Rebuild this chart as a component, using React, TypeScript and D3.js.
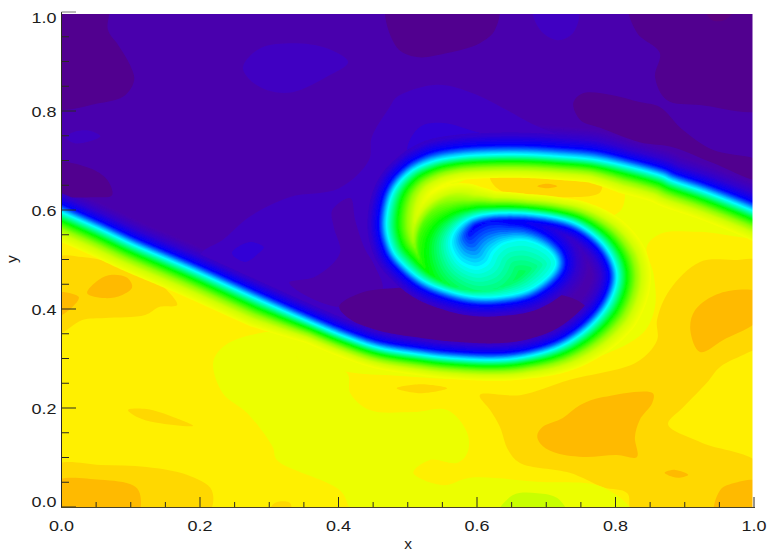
import React, { useMemo } from "react";
import * as d3 from "d3";

type P = [number, number];

// ---- axis values
const majorTicks = [0, 0.2, 0.4, 0.6, 0.8, 1.0];
const minorTicks = [0.05, 0.1, 0.15, 0.25, 0.3, 0.35, 0.45, 0.5, 0.55, 0.65, 0.7, 0.75, 0.85, 0.9, 0.95];

// ---- the shear interface (left edge -> spiral core -> right edge), in x,y
const interfaceLine: P[] = [
  [-0.031, 0.614], [0.001, 0.594], [0.056, 0.56], [0.103, 0.529], [0.157, 0.497], [0.2, 0.471], [0.287, 0.416],
  [0.363, 0.37], [0.412, 0.342], [0.46, 0.32], [0.518, 0.307], [0.561, 0.3], [0.623, 0.296], [0.672, 0.303],
  [0.72, 0.323], [0.759, 0.358], [0.788, 0.404], [0.802, 0.453], [0.799, 0.493], [0.782, 0.533], [0.753, 0.566],
  [0.72, 0.584], [0.672, 0.594], [0.623, 0.594], [0.59, 0.584], [0.568, 0.56], [0.561, 0.529], [0.573, 0.495],
  [0.597, 0.479], [0.616, 0.489], [0.626, 0.515], [0.643, 0.533], [0.672, 0.537], [0.701, 0.519], [0.713, 0.493],
  [0.701, 0.465], [0.672, 0.438], [0.633, 0.426], [0.594, 0.426], [0.557, 0.438], [0.522, 0.459], [0.493, 0.493],
  [0.477, 0.525], [0.47, 0.574], [0.479, 0.634], [0.503, 0.675], [0.536, 0.697], [0.575, 0.707], [0.623, 0.711],
  [0.672, 0.711], [0.72, 0.707], [0.768, 0.701], [0.817, 0.687], [0.864, 0.669], [0.883, 0.657], [0.932, 0.634],
  [0.994, 0.6], [1.03, 0.576],
];
// relative thickness of the transition layer at each interface point, on its yellow side
const spreadLower = [
  1, 1, 1, 1, 1, 1, 1, 0.75, 0.75, 0.75, 0.75, 0.75, 0.75, 0.8, 0.95, 1.1, 1.25, 1.25, 1.25, 1.1, 0.9, 0.75, 0.7, 0.8, 1.2, 2,
  3, 4, 5, 6.5, 6.5, 6.5, 6.5, 6, 5.5, 4.5, 3.2, 2, 1.3, 1, 1.2, 1.4, 1.4, 1.4, 1.3, 1.1, 0.95, 0.85, 0.85, 0.85, 0.85, 0.85,
  1, 1, 1, 1, 1, 1,
];
// ... and on its purple side
const spreadUpper = [
  1, 1, 1, 1, 1, 1, 1, 0.95, 0.95, 0.95, 0.95, 0.95, 0.95, 0.95, 1, 1.05, 1.05, 1.05, 1.05, 1.05, 1, 1, 1, 1, 1.2, 2,
  3, 4, 5, 5, 4, 2.5, 1.8, 1.5, 1.4, 1.3, 1.2, 1.1, 1.1, 1.1, 1.1, 1.1, 1.1, 1.1, 1.1, 1.1, 1.25, 1.25, 1.25, 1.25, 1.25, 1.25,
  1.1, 1.1, 1.1, 1.1, 1.1, 1.1,
];
// colour ramp of the layer against signed distance
const rampLevels = [-27, -20, -15, -11, -8, -3.5, 0, 2, 4.5, 7.5, 11, 15, 20, 25];
const rampColors = ["#f4ff00", "#d0ff00", "#90ff00", "#40ff00", "#00ff00", "#00ff90", "#00ffff", "#00c0ff", "#0060ff", "#0000ff", "#1800e8", "#3000d0", "#4000bc", "#4b00ac"];

// ---- lower fluid level regions
const yellowMain: P[] = [[0.604, 0.226], [0.662, 0.226], [0.734, 0.257], [0.831, 0.293], [0.86, 0.337], [0.86, 0.378], [0.878, 0.438], [0.922, 0.495], [0.97, 0.499], [1.009, 0.495], [1.009, 0.327], [0.99, 0.311], [0.951, 0.283], [0.932, 0.251], [0.898, 0.202], [0.876, 0.17], [0.879, 0.16], [0.926, 0.129], [1.009, 0.085], [1.009, -0.016], [0.825, -0.016], [0.817, 0.028], [0.782, 0.04], [0.734, 0.069], [0.662, 0.089], [0.645, 0.115], [0.633, 0.162], [0.619, 0.196]];
const yellowLeft: P[] = [[-0.005, 0.503], [0.03, 0.505], [0.069, 0.495], [0.121, 0.469], [0.155, 0.434], [0.167, 0.408], [0.141, 0.404], [0.121, 0.388], [0.063, 0.382], [0.03, 0.378], [-0.005, 0.352]];
const yellowCorner: P[] = [[-0.009, 0.083], [0.056, 0.085], [0.123, 0.081], [0.181, 0.065], [0.217, 0.034], [0.21, -0.016], [-0.009, -0.016]];
const yellowSliver: P[] = [[0.096, 0.196], [0.123, 0.198], [0.161, 0.182], [0.19, 0.164], [0.138, 0.17], [0.109, 0.182]];
const yellowSpot: P[] = [[0.484, 0.24], [0.518, 0.248], [0.557, 0.24], [0.518, 0.23]];
const yellowFoot: P[] = [[0.298, -0.016], [0.308, 0.008], [0.33, 0.008], [0.33, -0.016]];
const orangeCentre: P[] = [[0.687, 0.145], [0.695, 0.162], [0.724, 0.18], [0.749, 0.206], [0.782, 0.222], [0.854, 0.23], [0.853, 0.21], [0.835, 0.176], [0.828, 0.141], [0.831, 0.101], [0.802, 0.105], [0.753, 0.101], [0.71, 0.111], [0.691, 0.129]];
const orangeSpot: P[] = [[0.871, 0.069], [0.886, 0.075], [0.905, 0.065], [0.893, 0.059], [0.882, 0.061]];
const orangeCornerR: P[] = [[0.944, -0.016], [0.951, 0.034], [0.97, 0.048], [1.009, 0.051], [1.016, -0.016]];
const orangeRight: P[] = [[0.908, 0.358], [0.915, 0.398], [0.951, 0.432], [1.009, 0.432], [1.009, 0.382], [0.955, 0.337], [0.922, 0.313]];
const orangeLeft: P[] = [[0.037, 0.432], [0.054, 0.459], [0.073, 0.469], [0.095, 0.463], [0.102, 0.444], [0.087, 0.428], [0.063, 0.422]];
const orangeEdge: P[] = [[-0.009, 0.432], [0.025, 0.424], [0.011, 0.398], [-0.009, 0.384]];
const orangeCornerL: P[] = [[-0.009, 0.051], [0.056, 0.055], [0.103, 0.044], [0.113, 0.028], [0.109, -0.016], [-0.009, -0.016]];
const limeMain: P[] = [[0.219, 0.291], [0.233, 0.323], [0.272, 0.347], [0.373, 0.358], [0.34, 0.303], [0.412, 0.271], [0.417, 0.23], [0.445, 0.196], [0.508, 0.192], [0.557, 0.196], [0.586, 0.149], [0.586, 0.109], [0.571, 0.089], [0.532, 0.095], [0.508, 0.069], [0.551, 0.044], [0.59, 0.059], [0.687, 0.051], [0.782, 0.04], [0.825, -0.016], [0.427, -0.016], [0.402, 0.034], [0.311, 0.095], [0.305, 0.121], [0.268, 0.19], [0.233, 0.23]];
const limeWrap: P[] = [[0.34, 0.303], [0.412, 0.273], [0.484, 0.265], [0.59, 0.257], [0.658, 0.261], [0.734, 0.291], [0.778, 0.305], [0.84, 0.352], [0.857, 0.404], [0.855, 0.47], [0.845, 0.525], [0.865, 0.552], [0.92, 0.556], [1.02, 0.549], [1.02, 0.61], [0.778, 0.721], [0.489, 0.721], [0.388, 0.418]];
const limeGreen: P[] = [[0.63, -0.016], [0.652, 0.024], [0.687, 0.028], [0.716, 0.018], [0.73, -0.016]];
const tongueYellow: P[] = [[0.532, 0.614], [0.583, 0.661], [0.633, 0.677], [0.72, 0.681], [0.785, 0.668], [0.812, 0.64], [0.808, 0.6], [0.785, 0.585], [0.745, 0.592], [0.691, 0.61], [0.59, 0.62]];
const tongueAmber: P[] = [[0.619, 0.667], [0.662, 0.671], [0.778, 0.661], [0.778, 0.636], [0.72, 0.626], [0.633, 0.64]];
const tongueOrange: P[] = [[0.687, 0.648], [0.701, 0.653], [0.716, 0.648], [0.701, 0.644]];

// ---- upper fluid level regions
const haloWide: P[] = [[0.203, 0.515], [0.232, 0.539], [0.271, 0.586], [0.329, 0.626], [0.401, 0.644], [0.444, 0.701], [0.448, 0.747], [0.474, 0.808], [0.484, 0.828], [0.542, 0.853], [0.594, 0.836], [0.643, 0.802], [0.677, 0.776], [0.749, 0.735], [0.835, 0.691], [0.835, 0.671], [0.633, 0.499], [0.431, 0.347], [0.2, 0.495]];
const haloTop: P[] = [[0.499, 0.721], [0.518, 0.768], [0.551, 0.776], [0.604, 0.756], [0.677, 0.735], [0.749, 0.721], [0.778, 0.671], [0.518, 0.661]];
const haloSpot: P[] = [[0.246, 0.513], [0.271, 0.535], [0.292, 0.525], [0.285, 0.513], [0.265, 0.495]];
const baseInHalo: P[] = [[0.329, 0.453], [0.366, 0.465], [0.402, 0.513], [0.393, 0.566], [0.391, 0.6], [0.417, 0.624], [0.424, 0.58], [0.437, 0.525], [0.453, 0.485], [0.463, 0.438], [0.401, 0.404]];
const darkTopLeft: P[] = [[-0.02, 1.02], [0.067, 1.02], [0.067, 0.964], [0.082, 0.933], [0.099, 0.893], [0.105, 0.863], [0.092, 0.832], [0.056, 0.816], [-0.02, 0.81]];
const darkTopMid: P[] = [[0.471, 1.02], [0.484, 0.929], [0.513, 0.909], [0.557, 0.917], [0.604, 0.937], [0.626, 0.964], [0.629, 1.02]];
const darkTopRight: P[] = [[0.821, 1.02], [0.831, 0.958], [0.864, 0.917], [0.857, 0.869], [0.874, 0.822], [0.922, 0.812], [1.02, 0.808], [1.02, 1.02]];
const darkDiagonal: P[] = [[0.739, 0.816], [0.753, 0.836], [0.796, 0.832], [0.835, 0.818], [0.864, 0.808], [0.897, 0.762], [0.941, 0.721], [1.009, 0.697], [1.009, 0.661], [0.941, 0.695], [0.883, 0.727], [0.835, 0.737], [0.778, 0.766], [0.749, 0.782]];
const darkLeft: P[] = [[-0.02, 0.695], [0.04, 0.685], [0.066, 0.661], [0.073, 0.63], [0.048, 0.626], [-0.02, 0.636]];
const darkLower: P[] = [[0.401, 0.404], [0.431, 0.432], [0.479, 0.442], [0.575, 0.438], [0.744, 0.418], [0.778, 0.358], [0.662, 0.321], [0.547, 0.327], [0.46, 0.347]];
const deepTop: P[] = [[0.929, 1.01], [0.939, 0.984], [0.958, 0.984], [0.973, 1.01]];
const lightOval: P[] = [[0.262, 0.889], [0.287, 0.927], [0.334, 0.937], [0.383, 0.927], [0.414, 0.899], [0.383, 0.869], [0.334, 0.838], [0.297, 0.842], [0.272, 0.863]];
const lightSmall: P[] = [[0.006, 0.747], [0.019, 0.758], [0.041, 0.76], [0.056, 0.749], [0.041, 0.739], [0.019, 0.735]];
const lightTop: P[] = [[0.681, 1.01], [0.691, 0.964], [0.716, 0.943], [0.739, 0.958], [0.746, 1.01]];

const BASE_YELLOW = "#fff000";
const AMBER = "#ffd800";
const ORANGE = "#ffba00";
const LIME = "#ecff00";
const BASE_PURPLE = "#4b00ac";
const DARK = "#51008f";
const LIGHT = "#4100c2";
const BLUER = "#3000d6";

const lowerLayers: [P[], string][] = [
  [yellowMain, AMBER], [yellowLeft, AMBER], [yellowCorner, AMBER], [yellowSliver, AMBER], [yellowSpot, AMBER], [yellowFoot, AMBER],
  [orangeCentre, ORANGE], [orangeSpot, ORANGE], [orangeCornerR, ORANGE], [orangeRight, ORANGE], [orangeLeft, ORANGE], [orangeEdge, ORANGE], [orangeCornerL, ORANGE],
  [limeMain, LIME], [limeWrap, LIME], [limeGreen, "#c8ff00"],
  [tongueYellow, BASE_YELLOW], [tongueAmber, AMBER], [tongueOrange, ORANGE],
];
const upperLayers: [P[], string][] = [
  [haloWide, LIGHT], [haloTop, BLUER], [haloSpot, BLUER], [baseInHalo, BASE_PURPLE],
  [darkTopLeft, DARK], [darkTopMid, DARK], [darkTopRight, DARK], [darkDiagonal, DARK], [darkLeft, DARK], [darkLower, DARK], [deepTop, "#5c0080"],
  [lightOval, LIGHT], [lightSmall, LIGHT], [lightTop, LIGHT],
];

const W = 771;
const H = 552;
const x = d3.scaleLinear().domain([0, 1]).range([61.5, 754]);
const y = d3.scaleLinear().domain([0, 1]).range([507, 12]);
const area = d3.line<P>().x((d) => x(d[0])).y((d) => y(d[1])).curve(d3.curveCatmullRomClosed.alpha(0.5));
const ramp = d3.scaleLinear<string>().domain(rampLevels).range(rampColors).interpolate(d3.interpolateRgb);

// Catmull-Rom resampling of the interface in pixels, with both spreads carried along.
function sampleInterface() {
  const pts = interfaceLine.map((d) => [x(d[0]), y(d[1])]);
  const out: { px: number; py: number; lo: number; up: number }[] = [];
  const sub = 6;
  for (let i = 0; i < pts.length - 1; i++) {
    const p0 = pts[Math.max(0, i - 1)], p1 = pts[i], p2 = pts[i + 1], p3 = pts[Math.min(pts.length - 1, i + 2)];
    for (let k = 0; k < sub; k++) {
      const t = k / sub, t2 = t * t, t3 = t2 * t;
      const f = (a: number, b: number, c: number, e: number) =>
        0.5 * (2 * b + (c - a) * t + (2 * a - 5 * b + 4 * c - e) * t2 + (3 * b - a - 3 * c + e) * t3);
      out.push({
        px: f(p0[0], p1[0], p2[0], p3[0]),
        py: f(p0[1], p1[1], p2[1], p3[1]),
        lo: spreadLower[i] + (spreadLower[i + 1] - spreadLower[i]) * t,
        up: spreadUpper[i] + (spreadUpper[i + 1] - spreadUpper[i]) * t,
      });
    }
  }
  const last = pts[pts.length - 1];
  out.push({ px: last[0], py: last[1], lo: spreadLower[spreadLower.length - 1], up: spreadUpper[spreadUpper.length - 1] });
  return out;
}

function buildField() {
  const step = 2, x0 = 58, y0 = 8;
  const reach = 32;
  const n = Math.ceil((760 - x0) / step), m = Math.ceil((512 - y0) / step);
  const line = sampleInterface();
  const poly: [number, number][] = line.map((d) => [d.px, d.py]);
  poly.push([900, -100], [-100, -100]);
  const values = new Float64Array(n * m);
  for (let j = 0; j < m; j++) {
    for (let i = 0; i < n; i++) {
      const gx = x0 + (i + 0.5) * step, gy = y0 + (j + 0.5) * step;
      const inside = d3.polygonContains(poly, [gx, gy]);
      let best = Infinity;
      for (let k = 0; k < line.length - 1; k++) {
        const a = line[k], b = line[k + 1];
        const dx = b.px - a.px, dy = b.py - a.py;
        let t = ((gx - a.px) * dx + (gy - a.py) * dy) / (dx * dx + dy * dy || 1);
        t = t < 0 ? 0 : t > 1 ? 1 : t;
        const ex = a.px + t * dx - gx, ey = a.py + t * dy - gy;
        const sa = inside ? a.up : a.lo, sb = inside ? b.up : b.lo;
        const sp = sa + (sb - sa) * t;
        const dist = Math.sqrt(ex * ex + ey * ey);
        // a wide spread only acts close to the line; further out the value climbs quickly
        const q = dist < reach ? dist / sp : reach / sp + (dist - reach) * (1 / sp + 0.4 * Math.max(0, sp - 1));
        if (q < best) best = q;
      }
      values[j * n + i] = inside ? best : -best;
    }
  }
  const thresholds = d3.range(-27, 25.01, 0.75);
  const polys = d3.contours().size([n, m]).smooth(true).thresholds(thresholds)(Array.from(values));
  const path = d3.geoPath(
    d3.geoTransform({
      point(this: any, a: number, b: number) {
        this.stream.point(x0 + a * step, y0 + b * step);
      },
    })
  );
  const bands = polys.map((c) => ({ d: path(c) || "", color: ramp(c.value) }));
  const clipIndex = thresholds.findIndex((t) => t >= 18);
  return { bands, clip: bands[clipIndex].d };
}

const tickFont = "'Liberation Sans', Arial, sans-serif";

export default function App() {
  const field = useMemo(buildField, []);
  const ink = "#2a2a22";
  return (
    <svg width={W} height={H} viewBox={`0 0 ${W} ${H}`} style={{ position: "absolute", left: 0, top: 0, display: "block", background: "#fff" }}>
      <defs>
        <clipPath id="plot">
          <rect x={62} y={14} width={690.5} height={493} />
        </clipPath>
        <clipPath id="upper">
          <path d={field.clip} />
        </clipPath>
        <filter id="soft" x="-2%" y="-2%" width="104%" height="104%">
          <feGaussianBlur stdDeviation={0.55} />
        </filter>
      </defs>
      <g clipPath="url(#plot)">
        <g filter="url(#soft)">
          <rect x={50} y={5} width={715} height={515} fill={BASE_YELLOW} />
          {lowerLayers.map(([pts, c], i) => (
            <path key={i} d={area(pts) || ""} fill={c} />
          ))}
          {field.bands.map((b, i) => (
            <path key={i} d={b.d} fill={b.color} />
          ))}
          <g clipPath="url(#upper)">
            {upperLayers.map(([pts, c], i) => (
              <path key={i} d={area(pts) || ""} fill={c} />
            ))}
          </g>
        </g>
      </g>

      {/* left axis */}
      <line x1={61.5} x2={61.5} y1={12} y2={507.5} stroke={ink} strokeWidth={1} />
      {minorTicks.map((t) => (
        <line key={t} x1={61.5} x2={69} y1={y(t)} y2={y(t)} stroke={ink} strokeWidth={1} />
      ))}
      {majorTicks.map((t) => (
        <line key={t} x1={61.5} x2={76} y1={y(t)} y2={y(t)} stroke={t === 1 ? "#777" : ink} strokeWidth={1} />
      ))}
      {/* bottom axis */}
      <line x1={61} x2={755} y1={507.5} y2={507.5} stroke="#4a4228" strokeWidth={1} />
      {minorTicks.map((t) => (
        <line key={t} x1={x(t)} x2={x(t)} y1={507} y2={502} stroke={ink} strokeWidth={1} />
      ))}
      {majorTicks.map((t) => (
        <line key={t} x1={x(t)} x2={x(t)} y1={507} y2={497} stroke={ink} strokeWidth={1} />
      ))}

      <g fontFamily={tickFont} fontSize={15.5} fill="#1c1c1c">
        {majorTicks.map((t) => (
          <text key={t} x={x(t)} y={530.5} textAnchor="middle" textLength={25} lengthAdjust="spacingAndGlyphs">
            {t.toFixed(1)}
          </text>
        ))}
        {majorTicks.map((t) => (
          <text key={t} x={56.5} y={t === 0 ? 507 : t === 1 ? 23 : y(t) + 5.5} textAnchor="end" textLength={25} lengthAdjust="spacingAndGlyphs">
            {t.toFixed(1)}
          </text>
        ))}
        <text x={408} y={549} textAnchor="middle">x</text>
        <text transform="translate(17,259) rotate(-90)" textAnchor="middle">y</text>
      </g>
    </svg>
  );
}
